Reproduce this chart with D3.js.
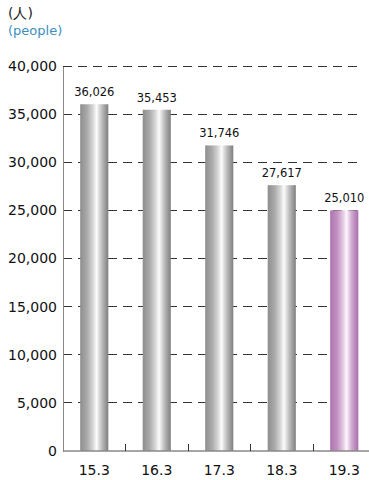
<!DOCTYPE html>
<html><head><meta charset="utf-8">
<script src="https://cdn.jsdelivr.net/npm/d3@7"></script>
<style>body{margin:0;background:#fff}svg{display:block}</style>
</head><body><svg id="c" width="369" height="480"></svg>
<script>
const categories = ["15.3","16.3","17.3","18.3","19.3"];
const values = [36026, 35453, 31746, 27617, 25010];
const yTicks = [0,5000,10000,15000,20000,25000,30000,35000,40000];
const highlight = "19.3";

const svg = d3.select("#c");
const font = "'DejaVu Sans', Verdana, sans-serif";
const x0 = 63, x1 = 375.5, yTop = 66, yBot = 451;

const x = d3.scaleBand().domain(categories).range([x0, x1]).paddingInner(0.55).paddingOuter(0.275);
const y = d3.scaleLinear().domain([0, 40000]).range([yBot, yTop]);

const defs = svg.append("defs");
function grad(id, stops){
  const g = defs.append("linearGradient").attr("id", id).attr("x1","0").attr("x2","1").attr("y1","0").attr("y2","0");
  stops.forEach(s => g.append("stop").attr("offset", s[0]).attr("stop-color", s[1]));
}
grad("gGray", [["0%","#8e8e8e"],["25%","#ababab"],["45%","#d6d6d6"],["58%","#fcfcfc"],["76%","#c0c0c0"],["100%","#7e7e7e"]]);
grad("gPink", [["0%","#ad73ad"],["25%","#c292c2"],["45%","#e2c8e2"],["58%","#fdf5fd"],["76%","#d0abd0"],["100%","#aa6eaa"]]);

// title
svg.append("text").attr("x", 8).attr("y", 18).attr("font-family", font).attr("font-size", 14).attr("fill", "#222").text("(人)");
svg.append("text").attr("x", 8).attr("y", 35).attr("font-family", font).attr("font-size", 13).attr("fill", "#3b8fc0").text("(people)");

// gridlines
svg.append("g").selectAll("line").data(yTicks.filter(d => d > 0)).join("line")
  .attr("x1", x0).attr("x2", 360).attr("y1", d => y(d)).attr("y2", d => y(d))
  .attr("stroke", "#333").attr("stroke-width", 1).attr("stroke-dasharray", "9,6")
  .attr("shape-rendering", "crispEdges");

// y axis
const yAxis = d3.axisLeft(y).tickValues(yTicks).tickSize(0).tickPadding(6).tickFormat(d3.format(","));
const ya = svg.append("g").attr("transform", `translate(${x0},0)`).call(yAxis);
ya.select(".domain").attr("stroke", "#888").attr("shape-rendering", "crispEdges");
ya.selectAll("text").attr("font-family", font).attr("font-size", 14).attr("fill", "#111");

// bars
svg.append("g").selectAll("rect").data(categories).join("rect")
  .attr("x", d => x(d)).attr("width", x.bandwidth())
  .attr("y", (d,i) => y(values[i])).attr("height", (d,i) => yBot - y(values[i]))
  .attr("fill", d => d === highlight ? "url(#gPink)" : "url(#gGray)");

// value labels
svg.append("g").selectAll("text").data(categories).join("text")
  .attr("x", d => x(d) + x.bandwidth()/2).attr("y", (d,i) => y(values[i]) - 8)
  .attr("text-anchor", "middle").attr("font-family", font).attr("font-size", 11.5).attr("fill", "#111")
  .text((d,i) => d3.format(",")(values[i]));

// x axis
const step = x.step();
svg.append("line").attr("x1", x0).attr("x2", 369).attr("y1", yBot).attr("y2", yBot)
  .attr("stroke", "#888").attr("stroke-width", 1.5);
svg.append("g").selectAll("line").data(categories.slice(1)).join("line")
  .attr("x1", d => x(d) - (step - x.bandwidth())/2).attr("x2", d => x(d) - (step - x.bandwidth())/2)
  .attr("y1", yBot).attr("y2", yBot - 7).attr("stroke", "#333").attr("shape-rendering", "crispEdges");
svg.append("g").selectAll("text").data(categories).join("text")
  .attr("x", d => x(d) + x.bandwidth()/2).attr("y", 475)
  .attr("text-anchor", "middle").attr("font-family", font).attr("font-size", 14).attr("fill", "#111")
  .text(d => d);
</script></body></html>
